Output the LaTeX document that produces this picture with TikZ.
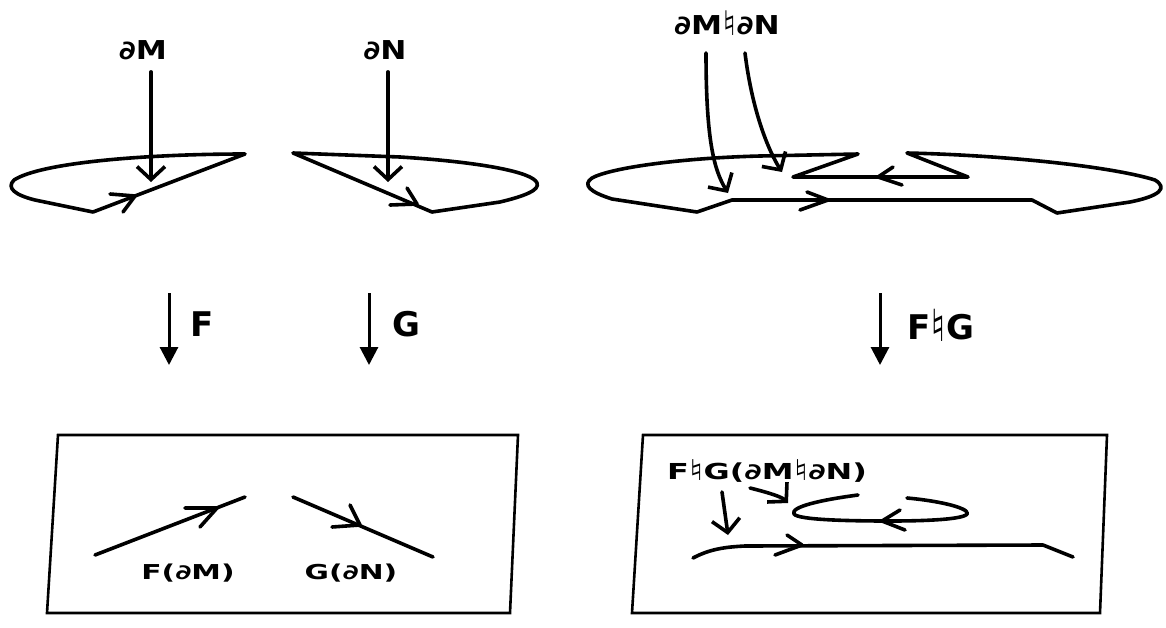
\documentclass[tikz,border=0pt]{standalone}
\usepackage{fontspec}
\setmainfont{DejaVu Sans}
\newfontfamily\toplbl[FakeStretch=1.2]{DejaVu Sans}
\newfontfamily\boxlbl[FakeStretch=1.45]{DejaVu Sans}
\usetikzlibrary{arrows.meta}
% natural sign, enlarged to cap height
\newcommand\natsign{\raisebox{-0.05em}{\scalebox{1.3}{♮}}}
\begin{document}
\begin{tikzpicture}[x=1pt,y=-1pt,
  ink/.style={line width=3.6pt,line cap=round,line join=round},
  frame/.style={line width=2.6pt,line join=miter},
  pointer/.style={ink,-{Straight Barb[length=13pt,width=28pt]}},
  mapto/.style={line width=3pt,-{Triangle[length=18pt,width=18pt]}},
  toptext/.style={font=\fontsize{26}{30}\selectfont\toplbl\bfseries,inner sep=0pt},
  boxtext/.style={font=\fontsize{20.5}{24}\selectfont\boxlbl\bfseries,inner sep=0pt},
  wboxtext/.style={font=\fontsize{22}{26}\selectfont\boxlbl\bfseries,inner sep=0pt},
  maptext/.style={font=\fontsize{34}{40}\selectfont\bfseries,inner sep=0pt},
]
\useasboundingbox (0,0) rectangle (1166,627);

% ---------- upper row: the two pieces M and N ----------
\node[toptext] (lblM) at (143,50) {∂M};
\node[toptext] (lblN) at (385,50) {∂N};
\coordinate (mTip) at (151,182);
\coordinate (nTip) at (388,182);
\draw[pointer,shorten <=12pt] (lblM.south -| mTip) -- (mTip);
\draw[pointer,shorten <=12pt] (lblN.south -| nTip) -- (nTip);

% piece M
\draw[ink] (245,154) -- (93,212) -- (35,200)
  .. controls (15,195) and (6,188) .. (14,180)
  .. controls (42,162) and (150,154) .. cycle;
\draw[ink] (110,194) -- (135,196) -- (123,212);

% piece N
\draw[ink] (293,153) -- (432,212) -- (500,202)
  .. controls (525,196) and (540,190) .. (537,183)
  .. controls (533,172) and (480,162) .. (400,157) -- cycle;
\draw[ink] (407,188) -- (417,204) -- (390,205);

% ---------- upper row: the glued piece ----------
\node[toptext] (lblMN) at (727,23) {∂M\natsign∂N};
\coordinate (aS) at (706,53);
\coordinate (aT) at (728,193);
\coordinate (bS) at (745,53);
\coordinate (bT) at (782,172);
\draw[pointer] (aS) .. controls (706,140) and (714,170) .. (aT);
\draw[pointer] (bS) .. controls (752,110) and (768,150) .. (bT);

\draw[ink] (858,154) -- (760,156)
  .. controls (680,158) and (610,168) .. (592,178)
  .. controls (582,185) and (590,192) .. (612,199)
  -- (697,212) -- (732,200) -- (1032,200) -- (1057,213)
  -- (1130,202) .. controls (1160,196) and (1168,188) .. (1155,180)
  .. controls (1110,166) and (1000,155) .. (907,153)
  -- (968,177) -- (793,177) -- cycle;
\draw[ink] (807,192) -- (828,200) -- (800,210);
\draw[ink] (893,167) -- (878,177) -- (902,185);

% ---------- the maps ----------
\coordinate (fA) at (169,293);
\coordinate (fB) at (169,365);
\coordinate (gA) at (369,293);
\coordinate (gB) at (369,365);
\coordinate (hA) at (880,293);
\coordinate (hB) at (880,365);
\draw[mapto] (fA) -- (fB);
\draw[mapto] (gA) -- (gB);
\draw[mapto] (hA) -- (hB);
\node[maptext] (lblF) at (202,324) {F};
\node[maptext] (lblG) at (406,324) {G};
\node[maptext] (lblFG) at (941,325) {F\natsign G};

% ---------- lower row: images ----------
\draw[frame] (58,435) -- (518,435) -- (510,613) -- (47,613) -- cycle;
\draw[ink] (95,555) -- (245,497);
\draw[ink] (185,508) -- (217,508) -- (200,527);
\draw[ink] (293,497) -- (433,557);
\draw[ink] (350,505) -- (360,525) -- (332,527);
\node[boxtext] (lblFM) at (188,573) {F(∂M)};
\node[boxtext] (lblGN) at (351,573) {G(∂N)};

\draw[frame] (643,435) -- (1107,435) -- (1100,613) -- (632,613) -- cycle;
\node[wboxtext] (lblFGMN) at (767,471) {F\natsign G(∂M\natsign∂N)};
\draw[ink] (693,558) .. controls (710,549) and (725,547) .. (745,546)
  -- (1043,545) -- (1073,557);
\draw[ink] (787,535) -- (802,545) -- (775,555);
\draw[ink] (858,495) .. controls (820,500) and (790,507) .. (794,514)
  .. controls (798,520) and (850,521) .. (890,521)
  .. controls (940,521) and (975,518) .. (966,511)
  .. controls (958,505) and (930,500) .. (907,498);
\draw[ink] (900,510) -- (882,521) -- (905,530);
\coordinate (cS) at (722,492);
\coordinate (cT) at (728,535);
\coordinate (dS) at (750,488);
\coordinate (dT) at (788,503);
\draw[pointer] (cS) -- (cT);
\draw[pointer] (dS) .. controls (770,493) and (782,497) .. (dT);
\end{tikzpicture}
\end{document}
